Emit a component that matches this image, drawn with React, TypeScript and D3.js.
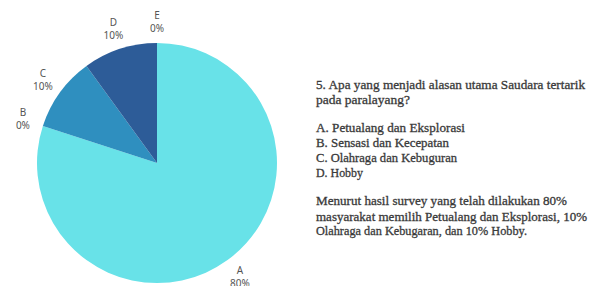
import React from "react";
import * as d3 from "d3";

const categories = ["A", "B", "C", "D", "E"];
const values = [80, 0, 10, 10, 0];
const colors = ["#68e2e8", "#2f8fbf", "#2f8fbf", "#2d5c98", "#2d5c98"];

const questionLines = [
  "5. Apa yang menjadi alasan utama Saudara tertarik",
  "pada paralayang?",
];
const optionLines = [
  "A. Petualang dan Eksplorasi",
  "B. Sensasi dan Kecepatan",
  "C. Olahraga dan Kebuguran",
  "D. Hobby",
];
const summaryLines = [
  "Menurut hasil survey yang telah dilakukan 80%",
  "masyarakat memilih Petualang dan Eksplorasi, 10%",
  "Olahraga dan Kebugaran, dan 10% Hobby.",
];

const W = 589;
const H = 286;

export default function App() {
  const cx = 157;
  const cy = 163;
  const r = 120;
  const labelR = 141;
  const pie = d3
    .pie<number>()
    .sort(null)
    .value((d) => d)
    .startAngle(0)
    .endAngle(2 * Math.PI);
  const arcs = pie(values);
  const arc = d3.arc<d3.PieArcDatum<number>>().innerRadius(0).outerRadius(r);
  const labelArc = d3
    .arc<d3.PieArcDatum<number>>()
    .innerRadius(labelR)
    .outerRadius(labelR);

  // widths measured from reference for each text line
  const qWidths = [269, 94];
  const oWidths = [149, 133, 141, 47];
  const sWidths = [251, 271, 211];
  const qY = [85, 100];
  const oY = [128, 143, 158, 172.5];
  const sY = [201, 216.5, 231];
  const x0 = 316;
  const textStyle = {
    fontFamily: "'Liberation Serif', serif",
    fontSize: 12.5,
    fill: "#3a3a3a",
    stroke: "#3a3a3a",
    strokeWidth: 0.3,
  };

  const renderLines = (lines: string[], ys: number[], widths: number[]) =>
    lines.map((t, i) => (
      <text
        key={t}
        x={x0}
        y={ys[i]}
        dy="0.35em"
        textLength={widths[i]}
        lengthAdjust="spacingAndGlyphs"
        style={textStyle}
      >
        {t}
      </text>
    ));

  return (
    <svg
      width={W}
      height={H}
      style={{ position: "absolute", left: 0, top: 0, background: "#fff" }}
    >
      <rect x={0} y={0} width={W} height={H} fill="#fff" />
      <g transform={`translate(${cx},${cy})`}>
        {arcs.map((a, i) =>
          a.value > 0 ? (
            <path key={categories[i]} d={arc(a) || ""} fill={colors[i]} />
          ) : null
        )}
        {arcs.map((a, i) => {
          const [lx, ly] = labelArc.centroid(a);
          return (
            <text
              key={"l" + categories[i]}
              textAnchor="middle"
              style={{
                fontFamily: "'Noto Sans', sans-serif",
                fontSize: 10,
                fill: "#555",
              }}
            >
              <tspan x={lx} y={ly - 6.5} dy="0.35em">
                {categories[i]}
              </tspan>
              <tspan x={lx} y={ly + 6.5} dy="0.35em">
                {values[i] + "%"}
              </tspan>
            </text>
          );
        })}
      </g>
      {renderLines(questionLines, qY, qWidths)}
      {renderLines(optionLines, oY, oWidths)}
      {renderLines(summaryLines, sY, sWidths)}
    </svg>
  );
}
